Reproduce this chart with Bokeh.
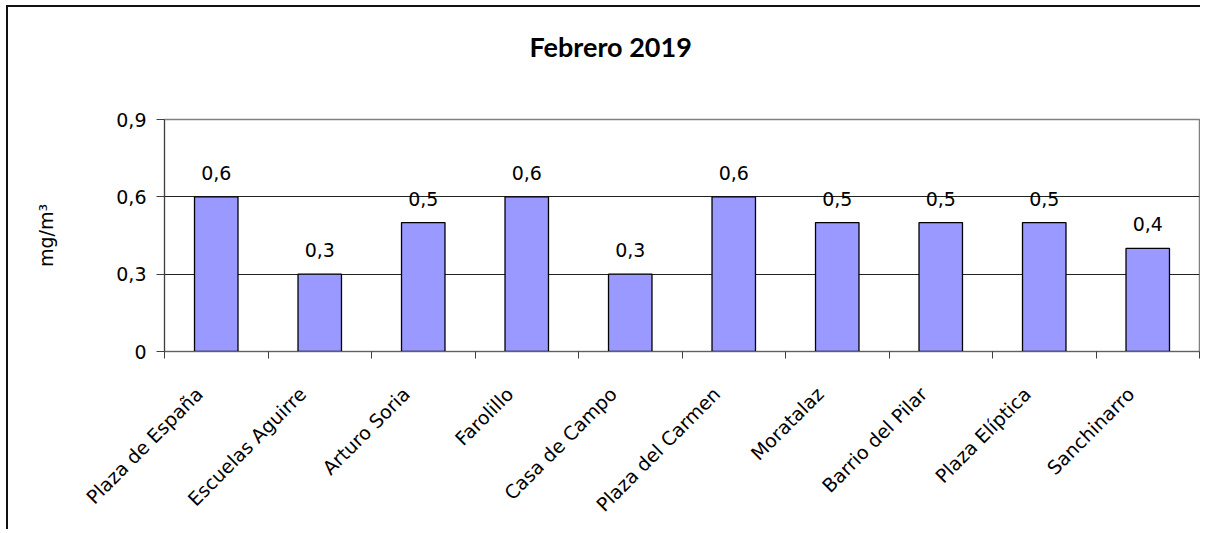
from bokeh.plotting import figure
from bokeh.models import FixedTicker, LabelSet, ColumnDataSource, Range1d, Title
from bokeh.core.properties import value
from bokeh.embed import file_html
from bokeh.resources import INLINE
from math import pi

categories = ["Plaza de España", "Escuelas Aguirre", "Arturo Soria", "Farolillo",
              "Casa de Campo", "Plaza del Carmen", "Moratalaz", "Barrio del Pilar",
              "Plaza Elíptica", "Sanchinarro"]
values = [0.6, 0.3, 0.5, 0.6, 0.3, 0.6, 0.5, 0.5, 0.5, 0.4]
y_ticks = [0, 0.3, 0.6, 0.9]
y_tick_labels = ["0", "0,3", "0,6", "0,9"]
title_text = "Febrero 2019"

NUM_FONT = "DejaVu Sans"
TITLE_FONT = "Lato"

xs = [i + 0.5 for i in range(len(categories))]
labels = [f"{v:.1f}".replace(".", ",") for v in values]
src = ColumnDataSource(dict(x=xs, top=values, label=labels))

p = figure(width=1194, height=524, output_backend="svg", toolbar_location=None,
           x_range=Range1d(0, len(categories)), y_range=Range1d(0, 0.9),
           min_border_left=156, min_border_right=3, min_border_top=111,
           min_border_bottom=180)
p.styles = {"border-left": "2px solid #111", "border-top": "2px solid #111",
            "margin-left": "6px", "margin-top": "5px"}

# an empty second line makes the title panel taller so the text sits higher
p.title = Title(text=title_text + "\n\u00a0", align="left", offset=365, standoff=44,
                vertical_align="top",
                text_font=TITLE_FONT, text_font_size="27px", text_font_style="bold",
                text_color="#000000")

p.vbar(x="x", top="top", width=0.42, bottom=0, source=src,
       fill_color="#9999FF", line_color="#000000", line_width=1.3)

p.add_layout(LabelSet(x="x", y="top", text="label", source=src, y_offset=17,
                      text_align="center", text_baseline="bottom",
                      text_font=value(NUM_FONT), text_font_size="19px",
                      text_color="#000000"))

# x axis
pad = "\u00a0" * 4
p.xaxis.ticker = FixedTicker(ticks=xs, minor_ticks=list(range(len(categories) + 1)))
p.xaxis.major_label_overrides = {x: c + pad for x, c in zip(xs, categories)}
p.xaxis.major_label_orientation = pi / 4
p.xaxis.major_tick_out = 0
p.xaxis.major_tick_in = 0
p.xaxis.minor_tick_out = 7
p.xaxis.minor_tick_in = 0
p.xaxis.minor_tick_line_color = "#404040"
p.xaxis.axis_line_color = "#606060"
p.xaxis.major_label_text_font = NUM_FONT
p.xaxis.major_label_text_font_size = "19px"
p.xaxis.major_label_text_color = "#000000"
p.xaxis.major_label_standoff = 15

# y axis
p.yaxis.ticker = FixedTicker(ticks=y_ticks, minor_ticks=[])
p.yaxis.major_label_overrides = {t_: l for t_, l in zip(y_ticks, y_tick_labels)}
p.yaxis.major_tick_out = 8
p.yaxis.major_tick_in = 0
p.yaxis.major_tick_line_color = "#404040"
p.yaxis.axis_line_color = "#404040"
p.yaxis.major_label_text_font = NUM_FONT
p.yaxis.major_label_text_font_size = "19px"
p.yaxis.major_label_text_color = "#000000"
p.yaxis.major_label_standoff = 10
p.yaxis.axis_label = "mg/m³"
p.yaxis.axis_label_text_font = NUM_FONT
p.yaxis.axis_label_text_font_size = "19px"
p.yaxis.axis_label_text_font_style = "normal"
p.yaxis.axis_label_text_color = "#000000"
p.yaxis.axis_label_standoff = 56

p.xgrid.grid_line_color = None
p.ygrid.ticker = FixedTicker(ticks=y_ticks)
p.ygrid.grid_line_color = "#222222"
p.ygrid.grid_line_width = 1

p.outline_line_color = "#808080"
p.outline_line_width = 1.5
p.background_fill_color = "#ffffff"
p.border_fill_color = "#ffffff"

open("out.html", "w").write(file_html(p, INLINE))
